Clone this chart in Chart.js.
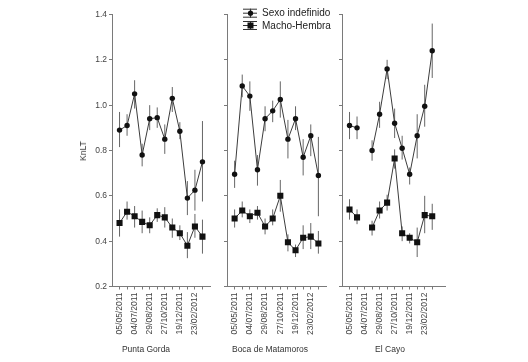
<!DOCTYPE html>
<html>
<head>
<meta charset="utf-8">
<script src="https://cdn.jsdelivr.net/npm/chart.js@4.4.0/dist/chart.umd.min.js"></script>
<style>
  body { margin: 0; background: #fff; width: 528px; height: 362px; overflow: hidden; position: relative;
         font-family: "Liberation Sans", Arial, sans-serif; color: #333; }
  canvas.panel { position: absolute; left: 0; top: 0; }
  .lbl { position: absolute; white-space: nowrap; }
</style>
</head>
<body>
<canvas id="c0" class="panel" width="528" height="362"></canvas>
<canvas id="c1" class="panel" width="528" height="362"></canvas>
<canvas id="c2" class="panel" width="528" height="362"></canvas>
<canvas id="legendIcons" width="16" height="28" style="position:absolute;left:242px;top:4px"></canvas>
<div class="lbl" id="leg0" style="left:262px;top:6px;font-size:10px;line-height:13px;color:#222"></div>
<div class="lbl" id="leg1" style="left:262px;top:18.5px;font-size:10px;line-height:13px;color:#222"></div>
<div class="lbl" id="ytitle" style="left:83px;top:151px;font-size:8.5px;transform:translate(-50%,-50%) rotate(-90deg);color:#333"></div>
<div class="lbl" id="t0" style="left:146px;top:344px;font-size:8.5px;transform:translateX(-50%)"></div>
<div class="lbl" id="t1" style="left:270px;top:344px;font-size:8.5px;transform:translateX(-50%)"></div>
<div class="lbl" id="t2" style="left:390px;top:344px;font-size:8.5px;transform:translateX(-50%)"></div>
<script>
const tickLabels = ['05/05/2011', '04/07/2011', '29/08/2011', '27/10/2011', '19/12/2011', '23/02/2012']
const panelNames = ['Punta Gorda', 'Boca de Matamoros', 'El Cayo']
const seriesNames = ['Sexo indefinido', 'Macho-Hembra']
const yTitle = 'KnLT'

// Punta Gorda
const pgSexo   = [0.89, 0.91, 1.05, 0.78, 0.94, 0.945, 0.85, 1.03, 0.885, 0.59, 0.625, 0.75]
const pgSexoLo = [0.815, 0.865, 0.985, 0.73, 0.89, 0.9, 0.785, 0.97, 0.85, 0.515, 0.535, 0.575]
const pgSexoHi = [0.97, 0.96, 1.11, 0.83, 1.0, 0.99, 0.915, 1.08, 0.925, 0.665, 0.715, 0.93]
const pgMH     = [0.48, 0.53, 0.51, 0.485, 0.47, 0.515, 0.505, 0.46, 0.435, 0.38, 0.465, 0.42]
const pgMHLo   = [0.42, 0.495, 0.46, 0.435, 0.435, 0.485, 0.46, 0.415, 0.405, 0.325, 0.415, 0.345]
const pgMHHi   = [0.54, 0.575, 0.555, 0.535, 0.505, 0.545, 0.55, 0.5, 0.47, 0.44, 0.52, 0.495]

// Boca de Matamoros
const bmSexo   = [0.695, 1.085, 1.04, 0.715, 0.94, 0.975, 1.025, 0.85, 0.94, 0.77, 0.865, 0.69]
const bmSexoLo = [0.635, 1.035, 0.975, 0.645, 0.885, 0.925, 0.945, 0.765, 0.89, 0.69, 0.775, 0.51]
const bmSexoHi = [0.755, 1.135, 1.105, 0.78, 0.995, 1.02, 1.105, 0.935, 0.995, 0.85, 0.915, 0.86]
const bmMH     = [0.5, 0.535, 0.51, 0.525, 0.465, 0.5, 0.6, 0.395, 0.36, 0.415, 0.42, 0.39]
const bmMHLo   = [0.46, 0.505, 0.48, 0.495, 0.43, 0.47, 0.53, 0.355, 0.33, 0.365, 0.365, 0.345]
const bmMHHi   = [0.54, 0.575, 0.54, 0.555, 0.5, 0.54, 0.67, 0.43, 0.385, 0.47, 0.48, 0.445]

// El Cayo (no sample in the third date)
const ecSexo   = [0.91, 0.9, null, 0.8, 0.96, 1.16, 0.92, 0.81, 0.695, 0.865, 0.995, 1.24]
const ecSexoLo = [0.85, 0.85, null, 0.755, 0.9, 1.115, 0.855, 0.76, 0.65, 0.765, 0.905, 1.12]
const ecSexoHi = [0.97, 0.95, null, 0.845, 1.015, 1.2, 0.985, 0.865, 0.725, 0.96, 1.09, 1.36]
const ecMH     = [0.54, 0.505, null, 0.46, 0.535, 0.57, 0.765, 0.435, 0.415, 0.395, 0.515, 0.51]
const ecMHLo   = [0.495, 0.475, null, 0.425, 0.5, 0.535, 0.72, 0.4, 0.39, 0.33, 0.435, 0.45]
const ecMHHi   = [0.585, 0.54, null, 0.49, 0.575, 0.605, 0.805, 0.465, 0.435, 0.46, 0.6, 0.565]

const panels = [
  { sexo: [pgSexo, pgSexoLo, pgSexoHi], mh: [pgMH, pgMHLo, pgMHHi], left: 112, right: 210, xMax: 12 },
  { sexo: [bmSexo, bmSexoLo, bmSexoHi], mh: [bmMH, bmMHLo, bmMHHi], left: 227, right: 326, xMax: 12 },
  { sexo: [ecSexo, ecSexoLo, ecSexoHi], mh: [ecMH, ecMHLo, ecMHHi], left: 342, right: 445, xMax: 12.7 }
]

Chart.defaults.font.family = '"Liberation Sans", Arial, sans-serif'

const lineColor = '#3c3c3c'
const markColor = '#111'
const axisColor = '#7a7a7a'

// vertical error bars drawn under the markers
const errorBars = {
  id: 'errorBars',
  beforeDatasetsDraw(chart) {
    const { ctx, scales: { x, y } } = chart
    ctx.save()
    ctx.strokeStyle = '#666'
    ctx.lineWidth = 1
    chart.data.datasets.forEach(ds => {
      ds.lo.forEach((lo, i) => {
        const hi = ds.hi[i]
        if (lo == null || hi == null) return
        const px = x.getPixelForValue(i)
        ctx.beginPath()
        ctx.moveTo(px, y.getPixelForValue(lo))
        ctx.lineTo(px, y.getPixelForValue(hi))
        ctx.stroke()
      })
    })
    ctx.restore()
  }
}

const toPoints = arr => arr.map((v, i) => ({ x: i, y: v }))

panels.forEach((p, n) => {
  const showY = n === 0
  const yWidth = showY ? 40 : 10
  new Chart(document.getElementById('c' + n), {
    type: 'line',
    data: {
      datasets: [
        {
          label: seriesNames[0], data: toPoints(p.sexo[0]), lo: p.sexo[1], hi: p.sexo[2],
          borderColor: lineColor, borderWidth: 1, tension: 0, spanGaps: false,
          pointStyle: 'circle', pointRadius: 2.7, pointBackgroundColor: markColor, pointBorderColor: markColor, pointBorderWidth: 0
        },
        {
          label: seriesNames[1], data: toPoints(p.mh[0]), lo: p.mh[1], hi: p.mh[2],
          borderColor: lineColor, borderWidth: 1, tension: 0, spanGaps: false,
          pointStyle: 'rect', pointRadius: 4.3, pointBackgroundColor: markColor, pointBorderColor: markColor, pointBorderWidth: 0
        }
      ]
    },
    options: {
      responsive: false,
      animation: false,
      events: [],
      layout: { padding: { left: p.left - yWidth, right: 528 - p.right, top: 14.5, bottom: 0 } },
      plugins: { legend: { display: false }, tooltip: { enabled: false } },
      scales: {
        x: {
          type: 'linear', min: -1, max: p.xMax,
          afterFit(s) { s.height = 75.5 },
          afterBuildTicks(s) { s.ticks = s.ticks.filter(t => t.value >= 0 && t.value <= 11) },
          ticks: {
            stepSize: 1, autoSkip: false, minRotation: 90, maxRotation: 90, padding: 3,
            color: '#444', font: { size: 8.5 },
            callback: v => (v % 2 === 0 && tickLabels[v / 2]) ? tickLabels[v / 2] : ''
          },
          grid: { drawOnChartArea: false, tickLength: 3, color: axisColor },
          border: { color: axisColor }
        },
        y: {
          min: 0.2, max: 1.4,
          afterFit(s) { s.width = yWidth },
          ticks: {
            stepSize: 0.2, padding: 2, color: '#444', font: { size: 8.5 },
            callback: v => showY ? v.toFixed(1) : ''
          },
          grid: { drawOnChartArea: false, tickLength: 3, color: axisColor },
          border: { color: axisColor }
        }
      }
    },
    plugins: [errorBars]
  })
})

// legend: error bar symbol with marker, then the series name
const lc = document.getElementById('legendIcons').getContext('2d')
lc.strokeStyle = '#333'
lc.fillStyle = markColor
lc.lineWidth = 1;
[8.7, 21].forEach((cy, k) => {
  lc.beginPath()
  lc.moveTo(1, cy - 4 + 0.5); lc.lineTo(15, cy - 4 + 0.5)
  lc.moveTo(1, cy + 0.5); lc.lineTo(15, cy + 0.5)
  lc.moveTo(1, cy + 4 + 0.5); lc.lineTo(15, cy + 4 + 0.5)
  lc.moveTo(8.5, cy - 4); lc.lineTo(8.5, cy + 5)
  lc.stroke()
  if (k === 0) {
    lc.beginPath(); lc.arc(8.5, cy + 0.5, 2.6, 0, Math.PI * 2); lc.fill()
  } else {
    lc.fillRect(5.5, cy - 2.5, 6, 6)
  }
  document.getElementById('leg' + k).textContent = seriesNames[k]
})

document.getElementById('ytitle').textContent = yTitle
panelNames.forEach((t, i) => { document.getElementById('t' + i).textContent = t })
</script>
</body>
</html>
